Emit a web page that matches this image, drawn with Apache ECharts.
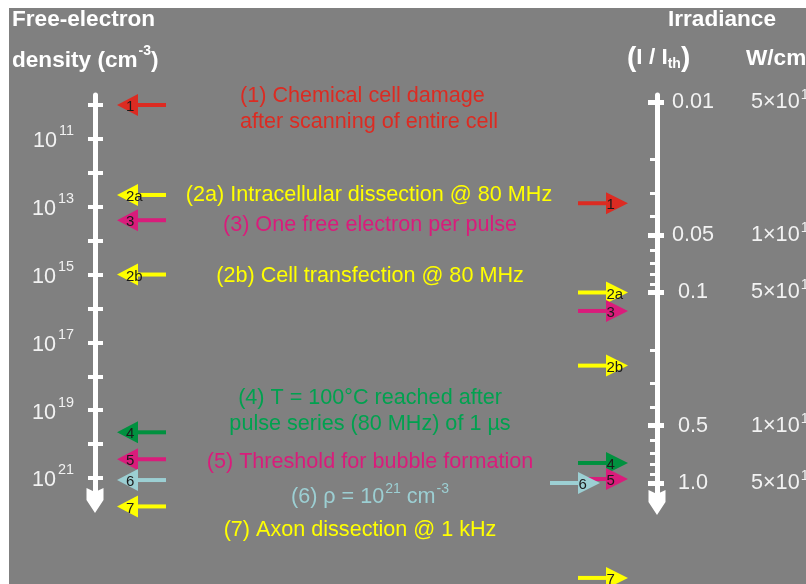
<!DOCTYPE html>
<html>
<head>
<meta charset="utf-8">
<script src="https://cdn.jsdelivr.net/npm/echarts@6/dist/echarts.min.js"></script>
<style>
html,body{margin:0;padding:0;background:#ffffff;}
#bg{position:absolute;left:9px;top:8px;width:797px;height:576px;background:#808080;}
#chart{position:absolute;left:0;top:0;width:806px;height:584px;}
</style>
</head>
<body>
<div id="bg"></div>
<div id="chart"></div>
<script>
// ---------------- data ----------------
const arrowLabels = ['1', '2a', '3', '2b', '4', '5', '6', '7'];
// free-electron density (cm^-3) for each process
const densityValues = [1e10, 4.5e12, 2.5e13, 1e15, 4.5e19, 2.8e20, 1.15e21, 6.9e21];
// irradiance I / I_th for each process
const irradianceValues = [0.034, 0.1, 0.125, 0.242, 0.785, 0.953, 1.0, 3.15];

// left axis ticks (exponents of 10) and labelled exponents
const densityTickExps = [10, 11, 12, 13, 14, 15, 16, 17, 18, 19, 20, 21];
const densityLabelExps = [11, 13, 15, 17, 19, 21];

// right axis ticks
const irradianceMajor = [0.01, 0.05, 0.1, 0.5, 1.0];
const irradianceMajorText = ['0.01', '0.05', '0.1', '0.5', '1.0'];
const wcmMantissa = ['5', '1', '5', '1', '5'];
const wcmExponent = ['10', '11', '11', '12', '12'];
const irradianceMinor = [0.02, 0.03, 0.04, 0.06, 0.07, 0.08, 0.09, 0.2, 0.3, 0.4, 0.6, 0.7, 0.8, 0.9];

// ---------------- styles ----------------
const FONT = '"Liberation Sans", Arial, Helvetica, sans-serif';
const RED = '#dc2b22', YELLOW = '#ffff00', MAGENTA = '#d91c7b', GREEN = '#00913f',
      GREEN_TEXT = '#00a14f', LBLUE = '#9ccfd3', WHITE = '#ffffff', TICKTXT = '#f2f2f2';
const arrowColors = {'1': RED, '2a': YELLOW, '3': MAGENTA, '2b': YELLOW, '4': GREEN, '5': MAGENTA, '6': LBLUE, '7': YELLOW};
const rightShift = {'6': -28};
const ARROW_PATH = 'path://M8.5,0 L17,13 L17,25 L8.5,21 L0,25 L0,13 Z';

const log10 = Math.log10;
const densityLog = densityValues.map(log10);
const irradianceLog = irradianceValues.map(log10);
const majorLog = irradianceMajor.map(log10);
const minorLog = irradianceMinor.map(log10);

function findMajor(v) {
  let best = 0, bd = 1e9;
  majorLog.forEach((m, i) => { const d = Math.abs(m - v); if (d < bd) { bd = d; best = i; } });
  return best;
}

function arrowRenderer(side) {
  return function (params, api) {
    const idx = api.value(2);
    const lab = arrowLabels[idx];
    const color = arrowColors[lab];
    const pt = api.coord([api.value(0), api.value(1)]);
    const y = pt[1];
    const headW = 21, headH = 22, shaftL = 29, shaftT = 4;
    let children;
    if (side === 'left') {
      const tip = pt[0] + 22;
      const base = tip + headW;
      children = [
        {type: 'rect', shape: {x: base - 1, y: y - shaftT / 2, width: shaftL, height: shaftT}, style: {fill: color}},
        {type: 'polygon', shape: {points: [[tip, y], [base, y - headH / 2], [base, y + headH / 2]]}, style: {fill: color}},
        {type: 'text', x: tip + 9, y: y + 2, style: {text: lab, fill: '#1a1a1a', font: '15px ' + FONT, align: 'left', verticalAlign: 'middle'}}
      ];
    } else {
      const tip = pt[0] - 29 + (rightShift[lab] || 0);
      const base = tip - headW - 1;
      children = [
        {type: 'rect', shape: {x: base - shaftL + 1, y: y - shaftT / 2, width: shaftL, height: shaftT}, style: {fill: color}},
        {type: 'polygon', shape: {points: [[tip, y], [base, y - headH / 2], [base, y + headH / 2]]}, style: {fill: color}},
        {type: 'text', x: base + 0.5, y: y + 2, style: {text: lab, fill: '#1a1a1a', font: '15px ' + FONT, align: 'left', verticalAlign: 'middle'}}
      ];
    }
    return {type: 'group', children: children};
  };
}

const chart = echarts.init(document.getElementById('chart'), null, {renderer: 'canvas'});

const leftMin = 9.705, leftMax = 21.664;
const rightMin = -2.0367, rightMax = 0.1024;

const hiddenX = {type: 'value', min: 0, max: 1, show: false};

const option = {
  animation: false,
  backgroundColor: 'transparent',
  grid: [
    {left: 95, top: 95, height: 405.5, width: 100, outerBoundsMode: 'none', containLabel: false},
    {left: 557, top: 95, height: 407.5, width: 100, outerBoundsMode: 'none', containLabel: false}
  ],
  xAxis: [
    Object.assign({gridIndex: 0}, hiddenX),
    Object.assign({gridIndex: 1}, hiddenX)
  ],
  yAxis: [
    { // left main axis
      gridIndex: 0, type: 'value', inverse: true, min: leftMin, max: leftMax, position: 'left',
      splitLine: {show: false},
      axisLine: {show: true, onZero: false, lineStyle: {color: WHITE, width: 5}, symbol: [ARROW_PATH, 'none'], symbolSize: [17, 25]},
      axisTick: {show: true, customValues: densityTickExps, length: 7, lineStyle: {color: WHITE, width: 4}},
      axisLabel: {
        show: true, customValues: densityLabelExps, margin: 21, padding: [5, 0, 0, 0],
        formatter: v => '{b|10}{s|' + v + '}',
        rich: {
          b: {fontSize: 21.6, fontFamily: FONT, color: TICKTXT, verticalAlign: 'bottom', lineHeight: 22},
          s: {fontSize: 14.4, fontFamily: FONT, color: TICKTXT, verticalAlign: 'bottom', lineHeight: 15, padding: [0, 0, 14, 2]}
        }
      }
    },
    { // left inside ticks
      gridIndex: 0, type: 'value', inverse: true, min: leftMin, max: leftMax, position: 'left',
      splitLine: {show: false}, axisLine: {show: false, onZero: false}, axisLabel: {show: false},
      axisTick: {show: true, inside: true, customValues: densityTickExps, length: 8, lineStyle: {color: WHITE, width: 4}}
    },
    { // right main axis
      gridIndex: 1, type: 'value', inverse: true, min: rightMin, max: rightMax, position: 'right',
      splitLine: {show: false},
      axisLine: {show: true, onZero: false, lineStyle: {color: WHITE, width: 5}, symbol: [ARROW_PATH, 'none'], symbolSize: [17, 25]},
      axisTick: {show: true, customValues: majorLog, length: 7, lineStyle: {color: WHITE, width: 5}},
      axisLabel: {
        show: true, customValues: majorLog, margin: 6,
        formatter: v => { const i = findMajor(v); return '{a|' + irradianceMajorText[i] + '}{b|' + wcmMantissa[i] + '×10}{s|' + wcmExponent[i] + '}'; },
        rich: {
          a: {fontSize: 21.6, fontFamily: FONT, color: TICKTXT, width: 60, align: 'center', verticalAlign: 'bottom', lineHeight: 22},
          b: {fontSize: 21.6, fontFamily: FONT, color: TICKTXT, verticalAlign: 'bottom', lineHeight: 22, padding: [0, 0, 0, 28]},
          s: {fontSize: 14.4, fontFamily: FONT, color: TICKTXT, verticalAlign: 'bottom', lineHeight: 15, padding: [0, 0, 11, 1]}
        }
      }
    },
    { // right minor inside ticks
      gridIndex: 1, type: 'value', inverse: true, min: rightMin, max: rightMax, position: 'right',
      splitLine: {show: false}, axisLine: {show: false, onZero: false}, axisLabel: {show: false},
      axisTick: {show: true, inside: true, customValues: minorLog, length: 7, lineStyle: {color: WHITE, width: 3}}
    },
    { // right major inside ticks
      gridIndex: 1, type: 'value', inverse: true, min: rightMin, max: rightMax, position: 'right',
      splitLine: {show: false}, axisLine: {show: false, onZero: false}, axisLabel: {show: false},
      axisTick: {show: true, inside: true, customValues: majorLog, length: 9, lineStyle: {color: WHITE, width: 5}}
    }
  ],
  series: [
    {
      type: 'custom', name: 'density', xAxisIndex: 0, yAxisIndex: 0, clip: false, z: 5,
      encode: {x: 0, y: 1},
      data: densityLog.map((v, i) => [0, v, i]),
      renderItem: arrowRenderer('left')
    },
    {
      type: 'custom', name: 'irradiance', xAxisIndex: 1, yAxisIndex: 2, clip: false, z: 5,
      encode: {x: 0, y: 1},
      data: irradianceLog.map((v, i) => [1, v, i]),
      renderItem: arrowRenderer('right')
    }
  ],
  graphic: [
    // headers
    {type: 'text', x: 12, y: 20, style: {text: 'Free-electron', fill: WHITE, font: 'bold 22.6px ' + FONT, verticalAlign: 'middle'}},
    {type: 'text', x: 12, y: 60, style: {
      text: '{t|density (cm}{s|-3}{t|)}', fill: WHITE, verticalAlign: 'middle',
      rich: {
        t: {fontSize: 22.6, fontWeight: 'bold', fontFamily: FONT, fill: WHITE, verticalAlign: 'bottom', lineHeight: 24},
        s: {fontSize: 14, fontWeight: 'bold', fontFamily: FONT, fill: WHITE, verticalAlign: 'bottom', lineHeight: 15, padding: [0, 0, 14, 1]}
      }}},
    {type: 'text', x: 668, y: 20, style: {text: 'Irradiance', fill: WHITE, font: 'bold 22.6px ' + FONT, verticalAlign: 'middle'}},
    {type: 'text', x: 627, y: 58, style: {
      text: '{p|(}{t|I / I}{u|th}{p|)}', fill: WHITE, verticalAlign: 'middle',
      rich: {
        p: {fontSize: 28, fontWeight: 'bold', fontFamily: FONT, fill: WHITE, verticalAlign: 'middle', lineHeight: 30},
        t: {fontSize: 22.6, fontWeight: 'bold', fontFamily: FONT, fill: WHITE, verticalAlign: 'middle', lineHeight: 24},
        u: {fontSize: 14, fontWeight: 'bold', fontFamily: FONT, fill: WHITE, verticalAlign: 'middle', lineHeight: 15, padding: [12, 0, 0, 0]}
      }}},
    {type: 'text', x: 746, y: 58, style: {
      text: '{t|W/cm}{s|2}', fill: WHITE, verticalAlign: 'middle',
      rich: {
        t: {fontSize: 22.6, fontWeight: 'bold', fontFamily: FONT, fill: WHITE, verticalAlign: 'bottom', lineHeight: 24},
        s: {fontSize: 14, fontWeight: 'bold', fontFamily: FONT, fill: WHITE, verticalAlign: 'bottom', lineHeight: 15, padding: [0, 0, 14, 1]}
      }}},
    // annotations
    {type: 'text', x: 240, y: 109, style: {text: '(1) Chemical cell damage\nafter scanning of entire cell', fill: RED, font: '21.6px ' + FONT, lineHeight: 25.5, align: 'left', verticalAlign: 'middle'}},
    {type: 'text', x: 369, y: 195, style: {text: '(2a) Intracellular dissection @ 80 MHz', fill: YELLOW, font: '21.6px ' + FONT, align: 'center', verticalAlign: 'middle'}},
    {type: 'text', x: 370, y: 225, style: {text: '(3) One free electron per pulse', fill: MAGENTA, font: '21.6px ' + FONT, align: 'center', verticalAlign: 'middle'}},
    {type: 'text', x: 370, y: 276, style: {text: '(2b) Cell transfection @ 80 MHz', fill: YELLOW, font: '21.6px ' + FONT, align: 'center', verticalAlign: 'middle'}},
    {type: 'text', x: 370, y: 411, style: {text: '(4) T = 100°C reached after\npulse series (80 MHz) of 1 µs', fill: GREEN_TEXT, font: '21.6px ' + FONT, lineHeight: 25.5, align: 'center', verticalAlign: 'middle'}},
    {type: 'text', x: 370, y: 462, style: {text: '(5) Threshold for bubble formation', fill: MAGENTA, font: '21.6px ' + FONT, align: 'center', verticalAlign: 'middle'}},
    {type: 'text', x: 370, y: 497, style: {
      text: '{t|(6) ρ = 10}{s|21}{t| cm}{s|-3}', fill: LBLUE, align: 'center', verticalAlign: 'middle',
      rich: {
        t: {fontSize: 21.6, fontFamily: FONT, fill: LBLUE, verticalAlign: 'bottom', lineHeight: 22},
        s: {fontSize: 14, fontFamily: FONT, fill: LBLUE, verticalAlign: 'bottom', lineHeight: 15, padding: [0, 0, 12, 1]}
      }}},
    {type: 'text', x: 360, y: 530, style: {text: '(7) Axon dissection @ 1 kHz', fill: YELLOW, font: '21.6px ' + FONT, align: 'center', verticalAlign: 'middle'}}
  ]
};
chart.setOption(option);
</script>
</body>
</html>
